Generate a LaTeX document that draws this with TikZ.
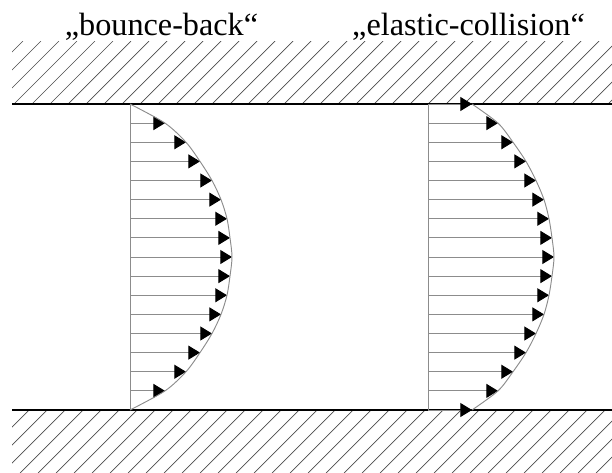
\documentclass[tikz,border=0pt]{standalone}
\usepackage{fontspec}
\setmainfont{Liberation Serif}
\usetikzlibrary{arrows.meta}

\begin{document}
\begin{tikzpicture}[x=0.03cm,y=-0.03cm,>=Stealth]
\tikzstyle{wall}=[draw=black,line width=1.6pt]
\tikzstyle{hatch}=[draw=black!70,line width=0.6pt]
\tikzstyle{prof}=[draw=black!45,line width=0.8pt]
\tikzstyle{vel}=[prof,-{Triangle[length=10pt,width=12pt,black]}]
\tikzstyle{title}=[anchor=base,inner sep=0pt,font=\fontsize{27.5}{30}\selectfont]
\useasboundingbox (0,0) rectangle (612,473);
\node[title] (bb) at (161.5,35) {„bounce-back“};
\node[title] (ec) at (468.5,35) {„elastic-collision“};
\begin{scope}
\clip (12,41) rectangle (612,104);
\foreach \i in {-58,-40,...,612} \draw[hatch] (\i,104) -- ++(63,-63);
\end{scope}
\begin{scope}
\clip (12,410) rectangle (612,473);
\foreach \i in {-52,-34,...,612} \draw[hatch] (\i,473) -- ++(63,-63);
\end{scope}
\draw[wall] (12,104) -- (612,104);
\draw[wall] (12,410) -- (612,410);
\draw[prof] (130,104) -- (130,410);
\foreach \k/\u in {1/35,2/56,3/70,4/82,5/91,6/97,7/100,8/102,9/100,10/97,11/91,12/82,13/70,14/56,15/35}
  \draw[vel] (130,104+19.125*\k) -- ++(\u,0);
\draw[prof] plot[smooth] coordinates {(130,104) (165,123.1) (186,142.25) (200,161.4) (212,180.5) (221,199.6) (227,218.75) (230,237.9) (232,257) (230,276.1) (227,295.25) (221,314.4) (212,333.5) (200,352.6) (186,371.75) (165,390.9) (130,410)};
\draw[prof] (428,104) -- (428,410);
\foreach \k/\u in {0/44,1/70,2/85,3/98,4/108,5/116,6/121,7/124,8/126,9/124,10/121,11/116,12/108,13/98,14/85,15/70,16/44}
  \draw[vel] (428,104+19.125*\k) -- ++(\u,0);
\draw[prof] plot[smooth] coordinates {(472,104) (498,123.1) (513,142.25) (526,161.4) (536,180.5) (544,199.6) (549,218.75) (552,237.9) (554,257) (552,276.1) (549,295.25) (544,314.4) (536,333.5) (526,352.6) (513,371.75) (498,390.9) (472,410)};
\end{tikzpicture}
\end{document}
